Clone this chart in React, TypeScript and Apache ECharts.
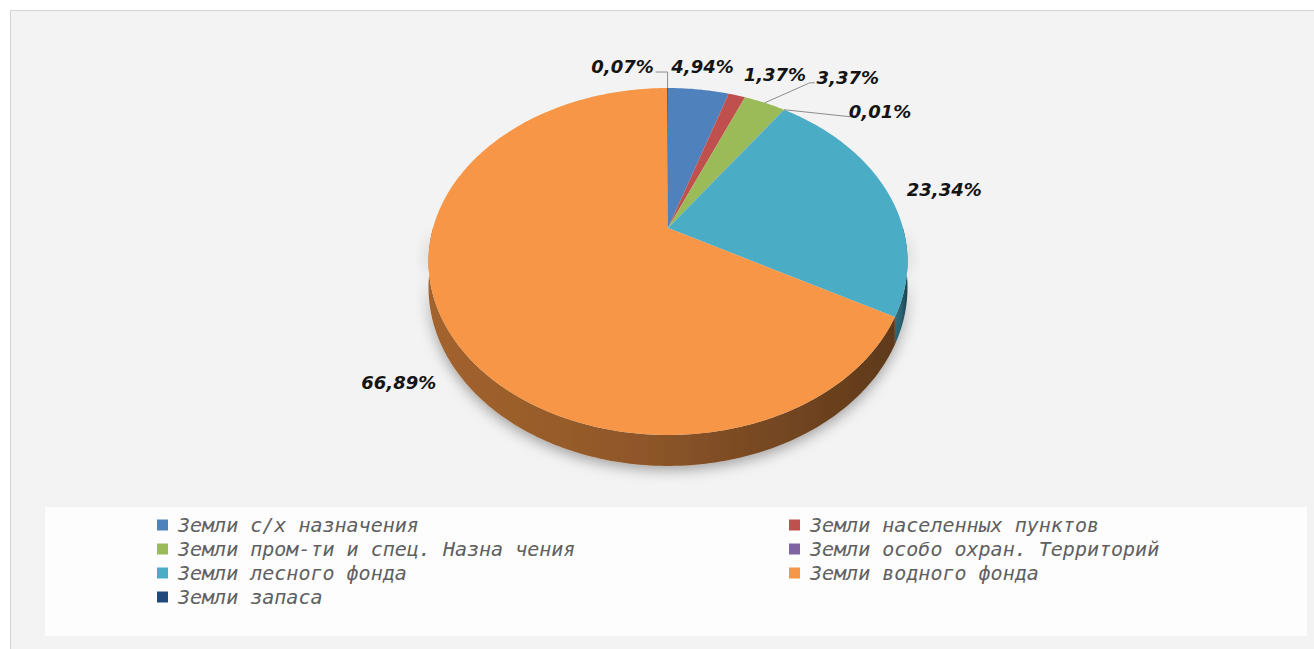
import React, { useEffect, useRef } from "react";
import * as echarts from "echarts";

// ---- data ----
const categories = [
  "Земли с/х назначения",
  "Земли населенных пунктов",
  "Земли пром-ти и спец. Назна чения",
  "Земли особо охран. Территорий",
  "Земли лесного фонда",
  "Земли водного фонда",
  "Земли запаса",
];
const shares = [4.94, 1.37, 3.37, 0.01, 23.34, 66.89, 0.07];
const colors = ["#4F81BD", "#C0504D", "#9BBB59", "#8064A2", "#4BACC6", "#F79646", "#1F497D"];
const leftLegendItems = [0, 2, 4, 6].map((i) => categories[i]);
const rightLegendItems = [1, 3, 5].map((i) => categories[i]);

// ---- layout (not data) ----
const labelOffsets = [[4, -23], [38, -21], [83, -25], [96, 2], [57, -2], [-45, 60], [-45, -22]];
const leaders: (number[][] | null)[] = [
  null,
  null,
  [[0, 0], [45, -20], [50, -20]],
  [[0, 0], [66, 7]],
  null,
  null,
  [[0, 0], [0, -16], [-12, -16]],
];
const P = { cx: 668, cy: 228, rx: 235, ry: 167, k: 0.193, h: 25 };

const total = shares.reduce((a, b) => a + b, 0);

function proj(aDeg: number, drop = 0): number[] {
  const t = ((90 - aDeg) * Math.PI) / 180;
  const X = Math.cos(t);
  const Z = -Math.sin(t);
  const d = 1 - P.k * Z;
  return [P.cx + (P.rx * X) / d, P.cy + (P.ry * Z + P.h * drop) / d];
}
function arc(a0: number, a1: number, drop: number): number[][] {
  const n = Math.max(2, Math.ceil(Math.abs(a1 - a0)) + 1);
  const pts: number[][] = [];
  for (let j = 0; j < n; j++) pts.push(proj(a0 + ((a1 - a0) * j) / (n - 1), drop));
  return pts;
}
function shade(hex: string, f: number): string {
  const n = parseInt(hex.slice(1), 16);
  const r = Math.round(((n >> 16) & 255) * f);
  const g = Math.round(((n >> 8) & 255) * f);
  const b = Math.round((n & 255) * f);
  return `rgb(${r},${g},${b})`;
}
function fmt(v: number): string {
  return v.toFixed(2).replace(".", ",") + "%";
}

function renderSlice(params: any, api: any) {
  const i = params.seriesIndex;
  const value = api.value(0);
  let start = 0;
  for (let j = 0; j < i; j++) start += shares[j];
  const a0 = (start / total) * 360;
  const a1 = ((start + value) / total) * 360;
  const color = colors[i];
  const children: any[] = [];

  const lo = Math.max(a0, 90);
  const hi = Math.min(a1, 270);
  if (hi > lo) {
    const pts = arc(lo, hi, 0).concat(arc(lo, hi, 1).reverse());
    children.push({
      type: "polygon",
      z2: 1,
      shape: { points: pts },
      style: {
        fill: new echarts.graphic.LinearGradient(0, 0, 1, 0, [
          { offset: 0, color: shade(color, 0.66) },
          { offset: 0.45, color: shade(color, 0.58) },
          { offset: 1, color: shade(color, 0.38) },
        ]),
        shadowBlur: 14,
        shadowColor: "rgba(0,0,0,0.35)",
        shadowOffsetY: 4,
      },
    });
  }
  children.push({
    type: "polygon",
    z2: 5,
    shape: { points: [[P.cx, P.cy]].concat(arc(a0, a1, 0)) },
    style: { fill: color },
  });

  const mid = (a0 + a1) / 2;
  const anchor = proj(mid, 0);
  const off = labelOffsets[i];
  const ld = leaders[i];
  if (ld) {
    children.push({
      type: "polyline",
      z2: 8,
      shape: { points: ld.map((p) => [anchor[0] + p[0], anchor[1] + p[1]]) },
      style: { stroke: "#8c8c8c", lineWidth: 1, fill: null },
    });
  }
  children.push({
    type: "text",
    z2: 10,
    x: anchor[0] + off[0],
    y: anchor[1] + off[1],
    style: {
      text: fmt(value),
      fill: "#141414",
      fontFamily: "DejaVu Sans",
      fontWeight: "bold",
      fontStyle: "italic",
      fontSize: 18,
      align: "center",
      verticalAlign: "middle",
    },
  });
  return { type: "group", children };
}

const legendText = {
  color: "#5f5f5f",
  fontFamily: "DejaVu Sans Mono",
  fontStyle: "italic",
  fontSize: 20,
  padding: [0, 0, 0, 5],
};

export default function App() {
  const ref = useRef<HTMLDivElement>(null);
  useEffect(() => {
    if (!ref.current) return;
    const chart = echarts.init(ref.current, undefined, { renderer: "svg" });
    chart.setOption({
      animation: false,
      backgroundColor: "#ffffff",
      graphic: [
        {
          type: "rect",
          z: -10,
          shape: { x: 10.5, y: 10.5, width: 1310, height: 645 },
          style: { fill: "#f3f3f3", stroke: "#d4d4d4", lineWidth: 1 },
        },
        {
          type: "rect",
          z: -9,
          shape: { x: 45, y: 507, width: 1262, height: 129 },
          style: { fill: "#fdfdfd" },
        },
      ],
      legend: [
        {
          data: leftLegendItems,
          orient: "vertical",
          left: 152,
          top: 510,
          icon: "rect",
          itemWidth: 11,
          itemHeight: 11,
          itemGap: 4,
          selectedMode: false,
          textStyle: legendText,
        },
        {
          data: rightLegendItems,
          orient: "vertical",
          left: 784,
          top: 510,
          icon: "rect",
          itemWidth: 11,
          itemHeight: 11,
          itemGap: 4,
          selectedMode: false,
          textStyle: legendText,
        },
      ],
      series: categories.map((name, i) => ({
        type: "custom",
        name,
        coordinateSystem: "none",
        itemStyle: { color: colors[i] },
        renderItem: renderSlice,
        data: [{ name, value: shares[i] }],
      })),
    });
    return () => chart.dispose();
  }, []);
  return (
    <div
      ref={ref}
      style={{ position: "fixed", left: 0, top: 0, width: 1314, height: 649 }}
    />
  );
}
